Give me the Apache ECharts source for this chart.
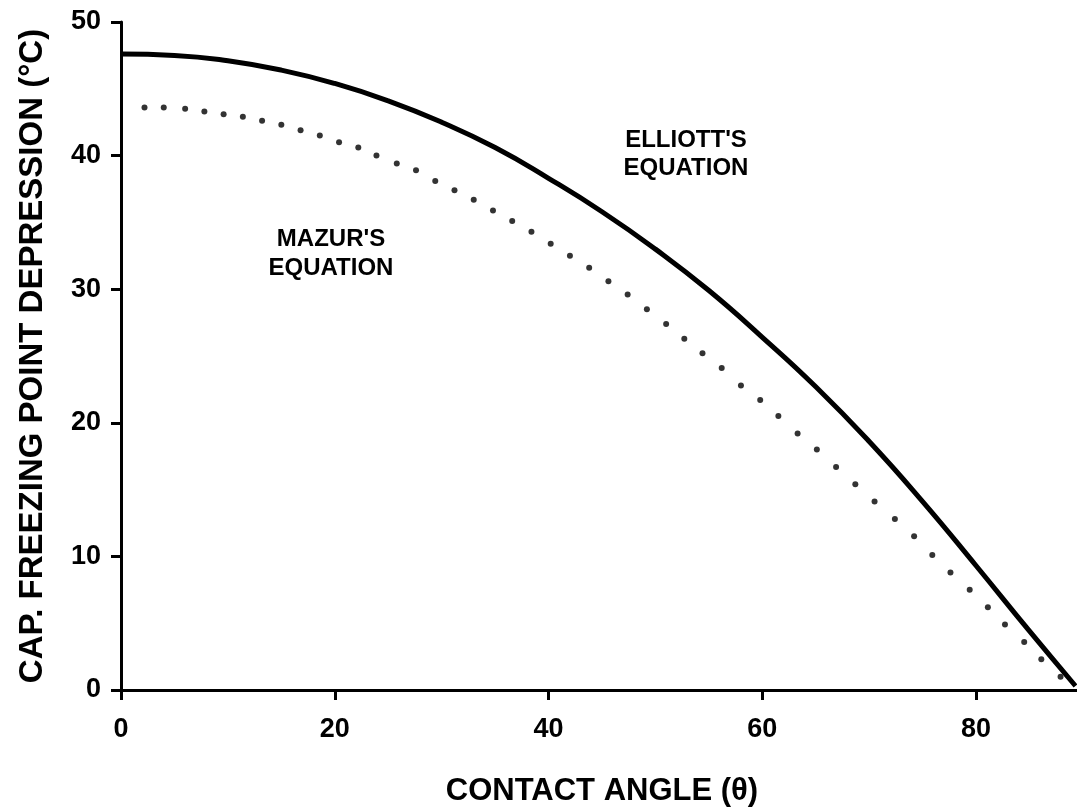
<!DOCTYPE html>
<html>
<head>
<meta charset="utf-8">
<script src="https://cdn.jsdelivr.net/npm/echarts@6/dist/echarts.min.js"></script>
<style>
  html, body { margin: 0; padding: 0; background: #fff; }
  #chart { width: 1077px; height: 812px; }
</style>
</head>
<body>
<div id="chart"></div>
<script>
// Elliott's equation (solid curve), every 5 degrees
const elliottAngle = [0, 5, 10, 15, 20, 25, 30, 35, 40, 45, 50, 55, 60, 65, 70, 75, 80, 85, 89.3];
const elliottDepr  = [47.6, 47.5, 47.1, 46.4, 45.4, 44.1, 42.5, 40.6, 38.3, 35.8, 33.0, 29.9, 26.4, 22.7, 18.6, 14.1, 9.3, 4.4, 0.3];

// Mazur's equation (dotted curve), one entry per dot in the picture
const mazurAngle = [2.2, 4.0, 6.0, 7.8, 9.6, 11.4, 13.2, 15.0, 16.8, 18.6, 20.4, 22.2, 23.9, 25.8, 27.6,
                    29.4, 31.2, 33.0, 34.8, 36.6, 38.4, 40.2, 42.0, 43.8, 45.6, 47.4, 49.2, 51.0, 52.7,
                    54.4, 56.2, 58.0, 59.8, 61.5, 63.3, 65.1, 66.9, 68.7, 70.5, 72.4, 74.2, 75.9, 77.6,
                    79.4, 81.1, 82.7, 84.5, 86.1, 87.9];
const mazurDepr  = [43.6, 43.6, 43.5, 43.3, 43.1, 42.9, 42.6, 42.3, 41.9, 41.5, 41.0, 40.6, 40.0, 39.4, 38.9,
                    38.1, 37.4, 36.7, 35.9, 35.1, 34.3, 33.4, 32.5, 31.6, 30.6, 29.6, 28.5, 27.4, 26.3,
                    25.2, 24.1, 22.8, 21.7, 20.5, 19.2, 18.0, 16.7, 15.4, 14.1, 12.8, 11.5, 10.1, 8.8,
                    7.5, 6.2, 4.9, 3.6, 2.3, 1.0];

const xTitle = 'CONTACT ANGLE (θ)';
const yTitle = 'CAP. FREEZING POINT DEPRESSION (°C)';

const font = "'Liberation Sans', Arial, sans-serif";

const chart = echarts.init(document.getElementById('chart'));

chart.setOption({
    animation: false,
    backgroundColor: '#fff',
    grid: {
        left: 121,
        right: -6,
        top: 22,
        bottom: 122,
        outerBoundsMode: 'none'
    },
    xAxis: {
        type: 'value',
        min: 0,
        max: 90,
        interval: 20,
        name: xTitle,
        nameLocation: 'middle',
        nameGap: 86,
        nameTextStyle: { color: '#000', fontFamily: font, fontWeight: 'bold', fontSize: 31 },
        axisLine: { lineStyle: { color: '#000', width: 3 } },
        axisTick: { show: true, length: 10, lineStyle: { color: '#000', width: 3 } },
        axisLabel: {
            color: '#000', fontFamily: font, fontWeight: 'bold', fontSize: 27,
            margin: 26, showMaxLabel: false
        },
        splitLine: { show: false }
    },
    yAxis: {
        type: 'value',
        min: 0,
        max: 50,
        interval: 10,
        name: yTitle,
        nameLocation: 'middle',
        nameGap: 72,
        nameTextStyle: { color: '#000', fontFamily: font, fontWeight: 'bold', fontSize: 33 },
        axisLine: { show: true, lineStyle: { color: '#000', width: 3 } },
        axisTick: { show: true, length: 10, lineStyle: { color: '#000', width: 3 } },
        axisLabel: { color: '#000', fontFamily: font, fontWeight: 'bold', fontSize: 27, margin: 20 },
        splitLine: { show: false }
    },
    series: [
        {
            name: "ELLIOTT'S EQUATION",
            type: 'line',
            smooth: true,
            showSymbol: false,
            data: elliottAngle.map((a, i) => [a, elliottDepr[i]]),
            lineStyle: { color: '#000', width: 5 }
        },
        {
            name: "MAZUR'S EQUATION",
            type: 'scatter',
            symbol: 'circle',
            symbolSize: 6,
            data: mazurAngle.map((a, i) => [a, mazurDepr[i]]),
            itemStyle: { color: '#000' }
        }
    ],
    graphic: [
        {
            type: 'text',
            x: 686,
            y: 154,
            style: {
                text: "ELLIOTT'S\nEQUATION",
                fill: '#000',
                font: 'bold 24px ' + font,
                align: 'center',
                verticalAlign: 'middle',
                lineHeight: 28
            }
        },
        {
            type: 'text',
            x: 331,
            y: 254,
            style: {
                text: "MAZUR'S\nEQUATION",
                fill: '#000',
                font: 'bold 24px ' + font,
                align: 'center',
                verticalAlign: 'middle',
                lineHeight: 29
            }
        }
    ]
});
</script>
</body>
</html>
